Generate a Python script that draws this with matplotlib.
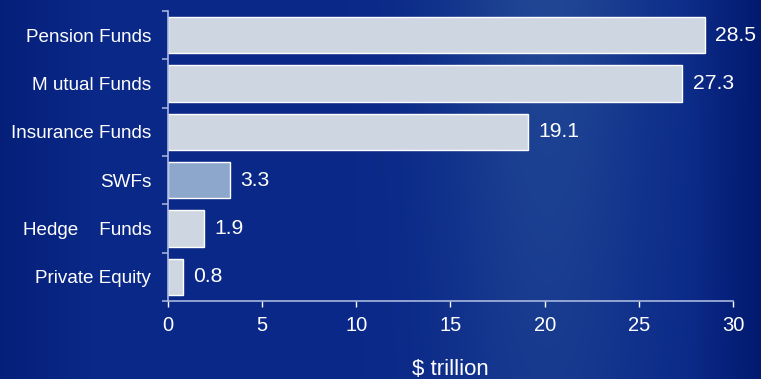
import numpy as np
import matplotlib
matplotlib.use("Agg")
import matplotlib.pyplot as plt

categories = ["Pension Funds", "M utual Funds", "Insurance Funds", "SWFs", "Hedge    Funds", "Private Equity"]
values = [28.5, 27.3, 19.1, 3.3, 1.9, 0.8]
value_labels = ["28.5", "27.3", "19.1", "3.3", "1.9", "0.8"]
xticks = [0, 5, 10, 15, 20, 25, 30]

plt.rcParams['font.family'] = ['Liberation Sans', 'DejaVu Sans']

W, H = 761, 379
fig = plt.figure(figsize=(W / 100, H / 100), dpi=100)

# background gradient
bg = fig.add_axes([0, 0, 1, 1], zorder=-10)
xx, yy = np.meshgrid(np.linspace(0, 1, 400), np.linspace(0, 1, 200))
base = np.array([10, 40, 136]) / 255.0
light = np.array([32, 70, 148]) / 255.0
dark = np.array([2, 26, 112]) / 255.0
glow = np.exp(-((xx - 0.72) ** 2) / 0.02) * (0.6 + 0.4 * (1 - yy))
edge = np.clip((xx - 0.9) / 0.1, 0, 1) + np.clip((0.12 - xx) / 0.12, 0, 1) * 0.6
img = base[None, None, :] + glow[..., None] * (light - base)[None, None, :] + edge[..., None] * (dark - base)[None, None, :]
bg.imshow(np.clip(img, 0, 1), aspect='auto', extent=[0, 1, 0, 1], origin='upper')
bg.axis('off')

ax = fig.add_axes([168 / W, 1 - 301 / H, (733 - 168) / W, (301 - 11) / H])
ax.patch.set_alpha(0)
n = len(categories)
ypos = np.arange(n)[::-1]
colors = ['#CDD6E1'] * n
colors[3] = '#8CA6CC'
ax.barh(ypos, values, height=0.75, color=colors, edgecolor='white', linewidth=1)
for y, v, lab in zip(ypos, values, value_labels):
    ax.text(v + 0.55, y, lab, va='center', ha='left', color='white', fontsize=15.2)

ax.set_xlim(0, 30)
ax.set_ylim(-0.5, n - 0.5)
ax.set_xticks(xticks)
ax.set_xticklabels([str(t) for t in xticks])
ax.set_yticks(ypos)
ax.set_yticklabels(categories)
ax.set_yticks(np.arange(-0.5, n, 1.0), minor=True)
ax.tick_params(axis='y', which='major', length=0, pad=12, labelsize=13.6, colors='white')
ax.tick_params(axis='y', which='minor', length=4, color='#9fb0d8', width=1.2)
ax.tick_params(axis='x', which='major', length=4, color='white', width=1, labelsize=14.5, colors='white', pad=7)
for s in ['top', 'right']:
    ax.spines[s].set_visible(False)
for s in ['left', 'bottom']:
    ax.spines[s].set_color('#a8b8e0')
    ax.spines[s].set_linewidth(1.2)
ax.set_xlabel("$ trillion", color='white', fontsize=16, labelpad=17)

fig.savefig("out.png", dpi=100)
